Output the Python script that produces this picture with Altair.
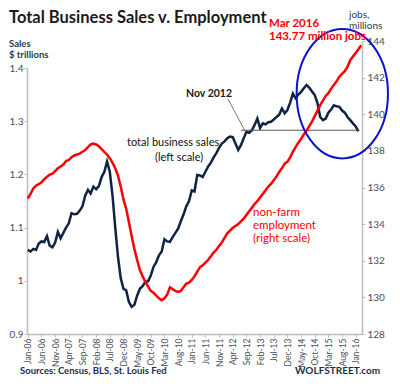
import json
import altair as alt
import pandas as pd

# x-axis tick labels (every 5 months, month index 0 = Jan 2006)
tick_labels = ['Jan-06', 'Jun-06', 'Nov-06', 'Apr-07', 'Sep-07', 'Feb-08', 'Jul-08',
               'Dec-08', 'May-09', 'Oct-09', 'Mar-10', 'Aug-10', 'Jan-11', 'Jun-11',
               'Nov-11', 'Apr-12', 'Sep-12', 'Feb-13', 'Jul-13', 'Dec-13', 'May-14',
               'Oct-14', 'Mar-15', 'Aug-15', 'Jan-16']

# Total business sales, $ trillions, monthly Jan 2006 - Feb 2016
sales = [1.058, 1.055, 1.060, 1.058, 1.070, 1.074, 1.073, 1.084, 1.066, 1.063, 1.072, 1.092,
         1.080, 1.090, 1.100, 1.108, 1.127, 1.125, 1.126, 1.132, 1.140, 1.160, 1.171, 1.164,
         1.177, 1.172, 1.178, 1.195, 1.205, 1.224, 1.205, 1.160, 1.100, 1.045, 1.005, 0.985,
         0.982, 0.960, 0.951, 0.955, 0.972, 0.985, 0.990, 0.998, 0.999, 1.010, 1.026, 1.035,
         1.048, 1.055, 1.078, 1.074, 1.073, 1.082, 1.090, 1.098, 1.112, 1.125, 1.140, 1.150,
         1.170, 1.168, 1.199, 1.198, 1.195, 1.205, 1.215, 1.222, 1.232, 1.240, 1.250, 1.258,
         1.262, 1.268, 1.271, 1.270, 1.258, 1.246, 1.255, 1.268, 1.280, 1.278, 1.283, 1.293,
         1.305, 1.287, 1.296, 1.294, 1.298, 1.299, 1.303, 1.308, 1.312, 1.324, 1.315, 1.321,
         1.335, 1.352, 1.343, 1.350, 1.355, 1.362, 1.368, 1.363, 1.356, 1.349, 1.334, 1.308,
         1.302, 1.305, 1.316, 1.322, 1.330, 1.328, 1.327, 1.320, 1.316, 1.308, 1.302, 1.296,
         1.290, 1.281]

# Non-farm employment, millions, monthly Jan 2006 - Mar 2016
jobs = [135.40, 135.65, 135.95, 136.10, 136.18, 136.28, 136.45, 136.58, 136.70, 136.75, 136.90, 137.05,
        137.15, 137.25, 137.45, 137.50, 137.65, 137.75, 137.80, 137.85, 137.95, 138.05, 138.20, 138.35,
        138.40, 138.35, 138.25, 138.10, 137.95, 137.80, 137.60, 137.35, 137.05, 136.65, 136.05, 135.35,
        134.85, 134.10, 133.35, 132.65, 132.05, 131.50, 131.15, 130.85, 130.60, 130.35, 130.25, 130.10,
        129.95, 129.85, 129.95, 130.15, 130.55, 130.45, 130.35, 130.30, 130.35, 130.55, 130.75, 130.80,
        130.95, 131.15, 131.40, 131.65, 131.75, 131.90, 132.05, 132.25, 132.45, 132.60, 132.80, 133.00,
        133.25, 133.50, 133.65, 133.80, 133.90, 134.00, 134.15, 134.30, 134.50, 134.70, 134.90, 135.10,
        135.25, 135.45, 135.65, 135.85, 136.05, 136.20, 136.40, 136.60, 136.85, 137.05, 137.30, 137.40,
        137.65, 137.95, 138.20, 138.45, 138.65, 138.90, 139.10, 139.35, 139.60, 139.90, 140.20, 140.50,
        140.75, 141.00, 141.15, 141.40, 141.60, 141.80, 142.05, 142.20, 142.35, 142.60, 142.95, 143.15,
        143.35, 143.55, 143.77]

left_ticks = [0.9, 1.0, 1.1, 1.2, 1.3, 1.4]
right_ticks = [128, 130, 132, 134, 136, 138, 140, 142, 144]
tick_months = list(range(0, 121, 5))
nov2012 = 82          # month index of Nov 2012
ref_start, ref_end = 78, 121

sales_df = pd.DataFrame({'m': list(range(len(sales))), 'sales': sales})
jobs_df = pd.DataFrame({'m': list(range(len(jobs))), 'jobs': jobs})
ref_df = pd.DataFrame({'m0': [ref_start], 'm1': [ref_end], 'v': [sales[nov2012]]})
one = pd.DataFrame({'k': [0]})

W, H = 335, 293
NAVY = '#0f2342'
RED = '#ff0000'
LBL = '#44505e'
FONT = 'Lato'

xscale = alt.Scale(domain=[-0.3, 122.3], nice=False, zero=False)
xaxis = alt.Axis(values=tick_months,
                 labelExpr=json.dumps(tick_labels) + '[round(datum.value/5)]',
                 title=None, labelAngle=270, labelFontSize=8.5, tickSize=3, labelPadding=1,
                 labelOverlap=False, labelFlush=False, labelBound=False)
lscale = alt.Scale(domain=[0.9, 1.4], range=[H, 27], nice=False, zero=False)
laxis = alt.Axis(orient='left', values=left_ticks, format='~g', title=None,
                 labelFontSize=10, tickSize=3, labelPadding=1, labelOverlap=False)

sales_line = alt.Chart(sales_df).mark_line(color=NAVY, strokeWidth=2.5).encode(
    x=alt.X('m:Q', scale=xscale, axis=xaxis),
    y=alt.Y('sales:Q', scale=lscale, axis=laxis))

ref_rule = alt.Chart(ref_df).mark_rule(color='#555555', strokeWidth=1).encode(
    x=alt.X('m0:Q', scale=xscale, axis=xaxis), x2='m1:Q',
    y=alt.Y('v:Q', scale=lscale, axis=laxis))

jobs_line = alt.Chart(jobs_df).mark_line(color=RED, strokeWidth=2.5).encode(
    x=alt.X('m:Q', scale=xscale, axis=xaxis),
    y=alt.Y('jobs:Q',
            scale=alt.Scale(domain=[128, 144], nice=False, zero=False),
            axis=alt.Axis(orient='right', values=right_ticks, format='d', title=None,
                          labelFontSize=10, tickSize=3, labelPadding=2, labelOverlap=False)))

ellipse_path = 'M -0.706 0 A 0.706 1 0 1 1 0.706 0 A 0.706 1 0 1 1 -0.706 0 Z'
ellipse = alt.Chart(one).mark_point(shape=ellipse_path, size=16744, filled=False,
                                    color='#0a14c8', strokeWidth=2, opacity=1).encode(
    x=alt.value(315.3), y=alt.value(52.7))

leader = alt.Chart(one).mark_rule(color='#555555', strokeWidth=0.8).encode(
    x=alt.value(201), y=alt.value(58), x2=alt.value(218), y2=alt.value(90))


def label(text, x, y, size=11, color='#1a1a1a', weight='normal'):
    return alt.Chart(one).mark_text(text=text, align='left', baseline='alphabetic',
                                    font=FONT, fontSize=size, color=color,
                                    fontWeight=weight).encode(x=alt.value(x), y=alt.value(y))


texts = [
    label('Total Business Sales v. Employment', -18, -18, 16.5, '#1a1a1a', 'bold'),
    label('Sales', -18, 6, 9.5, '#2b3a4a', 'bold'),
    label('$ trillions', -18, 17, 9.5, '#2b3a4a', 'bold'),
    label('jobs,', 322, -23, 10, '#2b3a4a'),
    label('millions', 322, -12, 10, '#2b3a4a'),
    label('Mar 2016', 242, -14, 11.5, RED, 'bold'),
    label('143.77 million jobs', 242, -1, 11.5, RED, 'bold'),
    label('Nov 2012', 159, 56, 10.5, '#1a1a1a', 'bold'),
    label('total business sales', 100, 105, 11, '#111111'),
    label('(left scale)', 128, 120, 11, '#111111'),
    label('non-farm', 226, 175, 11.5, RED),
    label('employment', 226, 188, 11.5, RED),
    label('(right scale)', 226, 201, 11.5, RED),
    label('Sources: Census, BLS, St. Louis Fed', -7, 333, 9.5, '#1f2d4a', 'bold'),
    label('WOLFSTREET.com', 268, 333, 10, '#1f2d4a', 'bold'),
]

chart = alt.layer(
    alt.layer(sales_line, ref_rule),
    jobs_line,
    ellipse,
    leader,
    *texts
).resolve_scale(y='independent').properties(
    width=W, height=H, autosize='none',
    padding={'left': 19, 'top': 33, 'right': 28, 'bottom': 42}
).configure_view(stroke=None).configure_axis(
    grid=False, domainColor='#bdbdbd', domainWidth=1.5, tickColor='#bdbdbd',
    labelColor=LBL, labelFont=FONT
)

chart.save('out.html', embed_options={'renderer': 'svg', 'actions': False})
